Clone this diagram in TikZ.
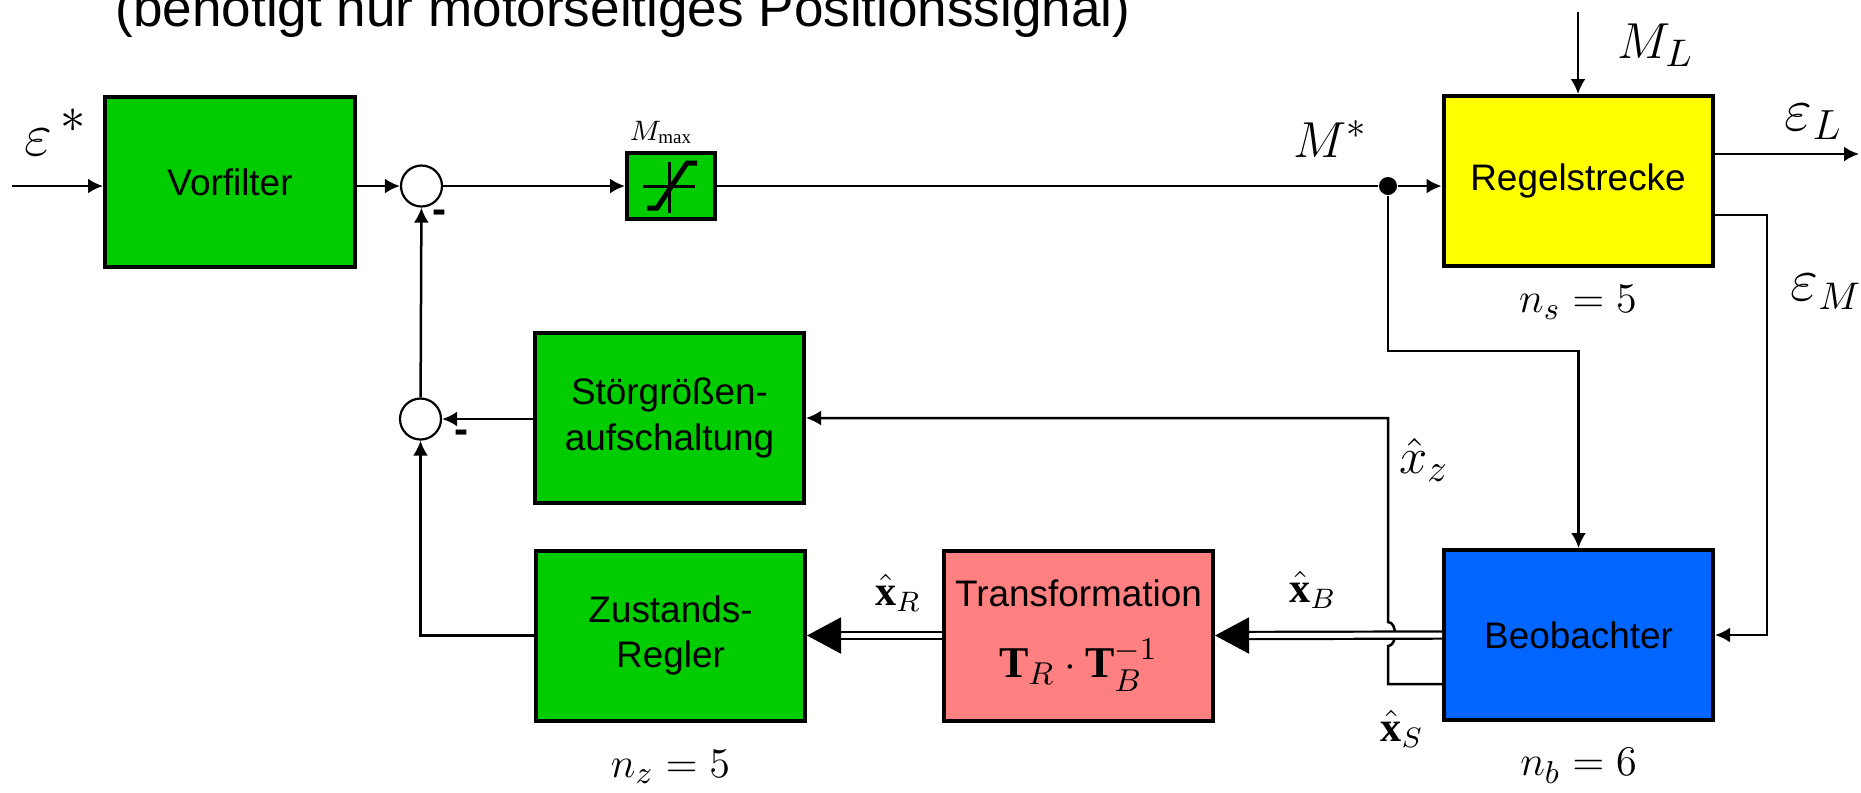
\documentclass[tikz,border=0pt]{standalone}
\usepackage{amsmath}
\usepackage{fontspec}
\setmainfont{Liberation Sans}
\setmathrm{Liberation Serif}
\usepackage{tikz}
\usetikzlibrary{positioning,arrows.meta,calc}
\definecolor{blkgreen}{RGB}{0,204,0}
\definecolor{blkyellow}{RGB}{255,255,0}
\definecolor{blkblue}{RGB}{0,102,255}
\definecolor{blkred}{RGB}{255,128,128}
\newcommand{\boxfont}{\fontsize{10.5}{13}\selectfont}
\tikzset{
  blk/.style={draw, line width=0.4mm, minimum width=26.9mm, minimum height=17mm,
              align=center, inner sep=0pt, font=\boxfont},
  sumnode/.style={circle, draw, line width=0.22mm, minimum size=4.1mm, inner sep=0pt, fill=white},
  dotnode/.style={circle, fill, inner sep=0pt, minimum size=1.8mm},
  wire/.style={line width=0.25mm},
  sig/.style={wire, -{Latex[length=1.5mm,width=1.5mm]}},
  bus/.style={double, double distance=0.5mm, line width=0.22mm},
  bigtip/.style={line width=0.2mm, -{Triangle[length=3.4mm,width=3.6mm]}},
  mlbl/.style={inner sep=0pt, font=\fontsize{15}{15}\selectfont},
  nlbl/.style={inner sep=0pt, font=\fontsize{12.5}{13}\selectfont},
  vlbl/.style={inner sep=0pt, font=\fontsize{12}{13}\selectfont},
  minus/.style={inner sep=0pt, font=\fontsize{12}{12}\selectfont\bfseries}
}
\begin{document}
\begin{tikzpicture}[x=0.1mm, y=-0.1mm]
  \useasboundingbox (0,0) rectangle (1861,792);
  \node[anchor=base west, inner sep=0pt, font=\fontsize{15.1}{18}\selectfont] (title) at (115,26)
    {(benötigt nur motorseitiges Positionssignal)};
  % forward path
  \node[blk, fill=blkgreen, minimum width=25mm] (vorf) at (230,182) {Vorfilter};
  \node[sumnode] (sum1) at (421.5,186) {};
  \node[blk, fill=blkgreen, minimum width=8.8mm, minimum height=6.6mm] (sat) at (671,186) {};
  \node[dotnode] (split) at (1388,186) {};
  \node[blk, fill=blkyellow] (strecke) at (1578,181) {Regelstrecke};
  \node[nlbl, below=1.7mm of strecke] (ns) {$n_{s}=5$};
  % feedback path
  \node[blk, fill=blkgreen] (stoer) at (669.5,418) {Störgrößen-\\aufschaltung};
  \node[sumnode] (sum2) at (420.5,419) {};
  \node[blk, fill=blkgreen] (zreg) at (670.5,635.5) {Zustands-\\Regler};
  \node[nlbl, below=2.7mm of zreg] (nz) {$n_{z}=5$};
  \node[blk, fill=blkred] (trafo) at (1078.5,635.5)
    {Transformation\\[2.5mm]{\fontsize{12.5}{14}\selectfont$\mathbf{T}_{R}\cdot\mathbf{T}_{B}^{-1}$}};
  \node[blk, fill=blkblue] (beob) at (1578.5,635) {Beobachter};
  \node[nlbl, below=2.6mm of beob] (nb) {$n_{b}=6$};
  % saturation symbol
  \draw[line width=0.3mm] ([shift={(-28,0)}]sat.center) -- ([shift={(24,0)}]sat.center);
  \draw[line width=0.3mm] ([shift={(-2,-24)}]sat.center) -- ([shift={(-2,27)}]sat.center);
  \draw[line width=0.5mm] ([shift={(-24,22)}]sat.center) -- ([shift={(-14,22)}]sat.center)
    -- ([shift={(16,-23)}]sat.center) -- ([shift={(26,-23)}]sat.center);
  \node[anchor=base west, inner sep=0pt, font=\fontsize{7.7}{8}\selectfont] (mmax) at (629,140) {$M_{\max}$};
  % signal labels
  \node[mlbl, anchor=base west, font=\fontsize{19}{19}\selectfont] (epsin) at (24,155) {$\varepsilon^{\,*}$};
  \node[mlbl, anchor=base west] (mstar) at (1293,157) {$M^{*}$};
  \node[mlbl, anchor=base west] (ml) at (1617,58) {$M_{L}$};
  \node[mlbl, anchor=base west, font=\fontsize{16.5}{17}\selectfont] (epsl) at (1784,130) {$\varepsilon_{L}$};
  \node[mlbl, anchor=base west, font=\fontsize{16}{17}\selectfont] (epsm) at (1790,300) {$\varepsilon_{M}$};
  \node[mlbl] (xz) at (1424,460) {$\hat{x}_{z}$};
  \node[vlbl] (xb) at (1313,590) {$\hat{\mathbf{x}}_{B}$};
  \node[vlbl] (xs) at (1402,729) {$\hat{\mathbf{x}}_{S}$};
  \node[vlbl] (xr) at (898,593) {$\hat{\mathbf{x}}_{R}$};
  \node[minus] (m1) at (440,217) {-};
  \node[minus] (m2) at (462,437) {-};
  % connectors
  \coordinate (in) at (12,186);
  \coordinate (mlin) at (1578,12);
  \coordinate (epslout) at (1859,154);
  \coordinate (epsmc) at (1767,215);
  \coordinate (tap) at (1388,351);
  \coordinate (xsout) at (1388,684);
  \coordinate (jmpa) at (1388,646);
  \coordinate (jmpb) at (1388,622);
  \draw[sig] (in) -- (in -| vorf.west);
  \draw[sig] (vorf.east |- sum1) -- (sum1.west);
  \draw[sig] (sum1) -- (sat);
  \draw[wire] (sat) -- (split);
  \draw[sig] (split) -- (split -| strecke.west);
  \draw[sig] (mlin) -- (strecke.north);
  \draw[sig] (epslout -| strecke.east) -- (epslout);
  \draw[sig] (epsmc -| strecke.east) -- (epsmc) |- (beob.east);
  \draw[sig] (split) -- (tap) -| (beob.north);
  \draw[sig] (xsout -| beob.west) -- (xsout) -- (jmpa) to[out=0, in=0] (jmpb) |- (stoer.east);
  \draw[sig] (stoer.west |- sum2) -- (sum2.east);
  \draw[sig] (zreg.west) -| (sum2.south);
  \draw[sig] (sum2) -- (sum1);
  \draw[bus] (beob.west) -- ([xshift=3mm]trafo.east);
  \draw[bigtip] ([xshift=3mm]trafo.east) -- (trafo.east);
  \draw[bus] (trafo.west) -- ([xshift=3mm]zreg.east);
  \draw[bigtip] ([xshift=3mm]zreg.east) -- (zreg.east);
\end{tikzpicture}
\end{document}
